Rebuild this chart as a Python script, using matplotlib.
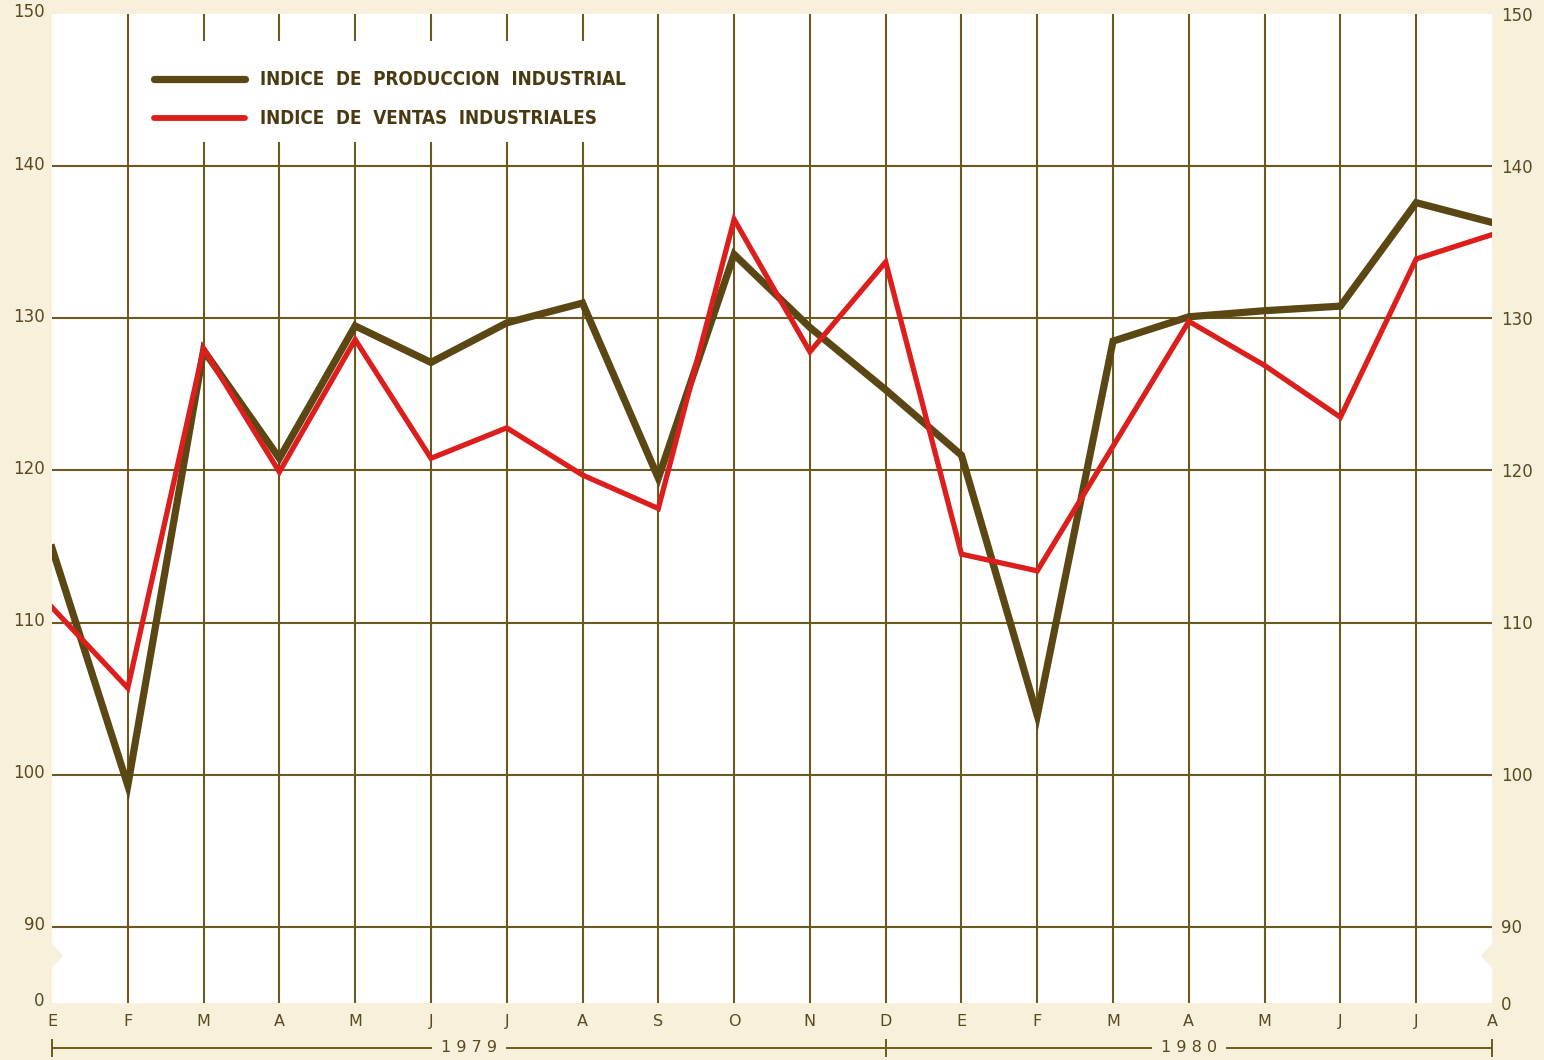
import matplotlib.pyplot as plt
from matplotlib.patches import Rectangle, Polygon

months = ["E", "F", "M", "A", "M", "J", "J", "A", "S", "O",
          "N", "D", "E", "F", "M", "A", "M", "J", "J", "A"]
years = ["1979", "1980"]

# indices, Jan 1979 .. Aug 1980
produccion = [114.9, 99.3, 127.9, 120.8, 129.5, 127.1, 129.7, 131.0, 119.5, 134.2,
              129.4, 125.3, 121.0, 103.9, 128.5, 130.1, 130.5, 130.8, 137.6, 136.3]
ventas = [111.0, 105.7, 128.0, 119.9, 128.6, 120.8, 122.8, 119.7, 117.5, 136.5,
          127.8, 133.7, 114.5, 113.4, 121.6, 129.8, 126.9, 123.5, 133.9, 135.5]

y_ticks = [90, 100, 110, 120, 130, 140, 150]

bg = "#f7f1dc"
grid_c = "#6b5a1e"
brown = "#5a4713"
red = "#dc1f1c"
text_c = "#5a4a22"

fig = plt.figure(figsize=(15.44, 10.6), dpi=100, facecolor=bg)
ax = fig.add_axes([52 / 1544, 1 - 1003 / 1060, 1440 / 1544, 989 / 1060])
ax.set_facecolor("white")

x = list(range(len(months)))
ax.set_xlim(0, len(months) - 1)
ax.set_ylim(85, 150)

for xi in x[1:-1]:
    ax.axvline(xi, color=grid_c, lw=1.5, zorder=1)
for yv in y_ticks[:-1]:
    ax.axhline(yv, color=grid_c, lw=1.5, zorder=1)

# legend box covering the grid
ax.add_patch(Rectangle((1.2, 141.6), 6.4, 6.6, facecolor="white",
                       edgecolor="none", zorder=2))

ax.plot(x, produccion, color=brown, lw=5.2, solid_joinstyle="miter", zorder=3)
ax.plot(x, ventas, color=red, lw=3.8, solid_joinstyle="miter", zorder=4)

# legend entries
ax.plot([1.35, 2.55], [145.7, 145.7], color=brown, lw=5.2, solid_capstyle="round", zorder=5)
ax.plot([1.35, 2.55], [143.15, 143.15], color=red, lw=4.2, solid_capstyle="round", zorder=5)
ax.text(2.75, 145.7, "INDICE  DE  PRODUCCION  INDUSTRIAL", color="#4a3a12",
        fontsize=13.5, fontweight="bold", fontstretch="condensed",
        va="center", ha="left", zorder=5)
ax.text(2.75, 143.15, "INDICE  DE  VENTAS  INDUSTRIALES", color="#4a3a12",
        fontsize=13.5, fontweight="bold", fontstretch="condensed",
        va="center", ha="left", zorder=5)

for s in ax.spines.values():
    s.set_visible(False)
ax.set_xticks([])
ax.set_yticks([])

# y labels on both sides, "0" marks the broken axis
for yv in y_ticks + [85]:
    lab = "0" if yv == 85 else str(yv)
    ax.text(-0.005, yv + 0.1, lab, transform=ax.get_yaxis_transform(), ha="right",
            va="center", fontsize=12, color=text_c)
    ax.text(1.006, yv - 0.1, lab, transform=ax.get_yaxis_transform(), ha="left",
            va="center", fontsize=12, color=text_c)

# broken-axis notches
for px in [(0, 0.048), (1, 0.048)]:
    sgn = 1 if px[0] == 0 else -1
    tri = Polygon([(px[0], px[1] - 0.012), (px[0] + sgn * 0.008, px[1]), (px[0], px[1] + 0.012)],
                  closed=True, transform=ax.transAxes, facecolor=bg, edgecolor="none",
                  zorder=6, clip_on=False)
    ax.add_patch(tri)

# month labels
for xi, m in zip(x, months):
    ax.text(xi, -0.019, m, transform=ax.get_xaxis_transform(), ha="center",
            va="center", fontsize=11.5, color=text_c)

# year bracket
yb = -0.0455
tr = ax.get_xaxis_transform()
ax.plot([0, 5.0], [yb, yb], transform=tr, color=grid_c, lw=1.4, clip_on=False)
ax.plot([6.0, 11], [yb, yb], transform=tr, color=grid_c, lw=1.4, clip_on=False)
ax.plot([11, 14.5], [yb, yb], transform=tr, color=grid_c, lw=1.4, clip_on=False)
ax.plot([15.5, 19], [yb, yb], transform=tr, color=grid_c, lw=1.4, clip_on=False)
for xt in [0, 11, 19]:
    ax.plot([xt, xt], [yb - 0.008, yb + 0.008], transform=tr, color=grid_c,
            lw=1.4, clip_on=False)
ax.text(5.5, yb, " ".join(years[0]), transform=tr, ha="center", va="center",
        fontsize=11.5, color=text_c)
ax.text(15.0, yb, " ".join(years[1]), transform=tr, ha="center", va="center",
        fontsize=11.5, color=text_c)

fig.savefig("out.png", dpi=100, facecolor=bg)
